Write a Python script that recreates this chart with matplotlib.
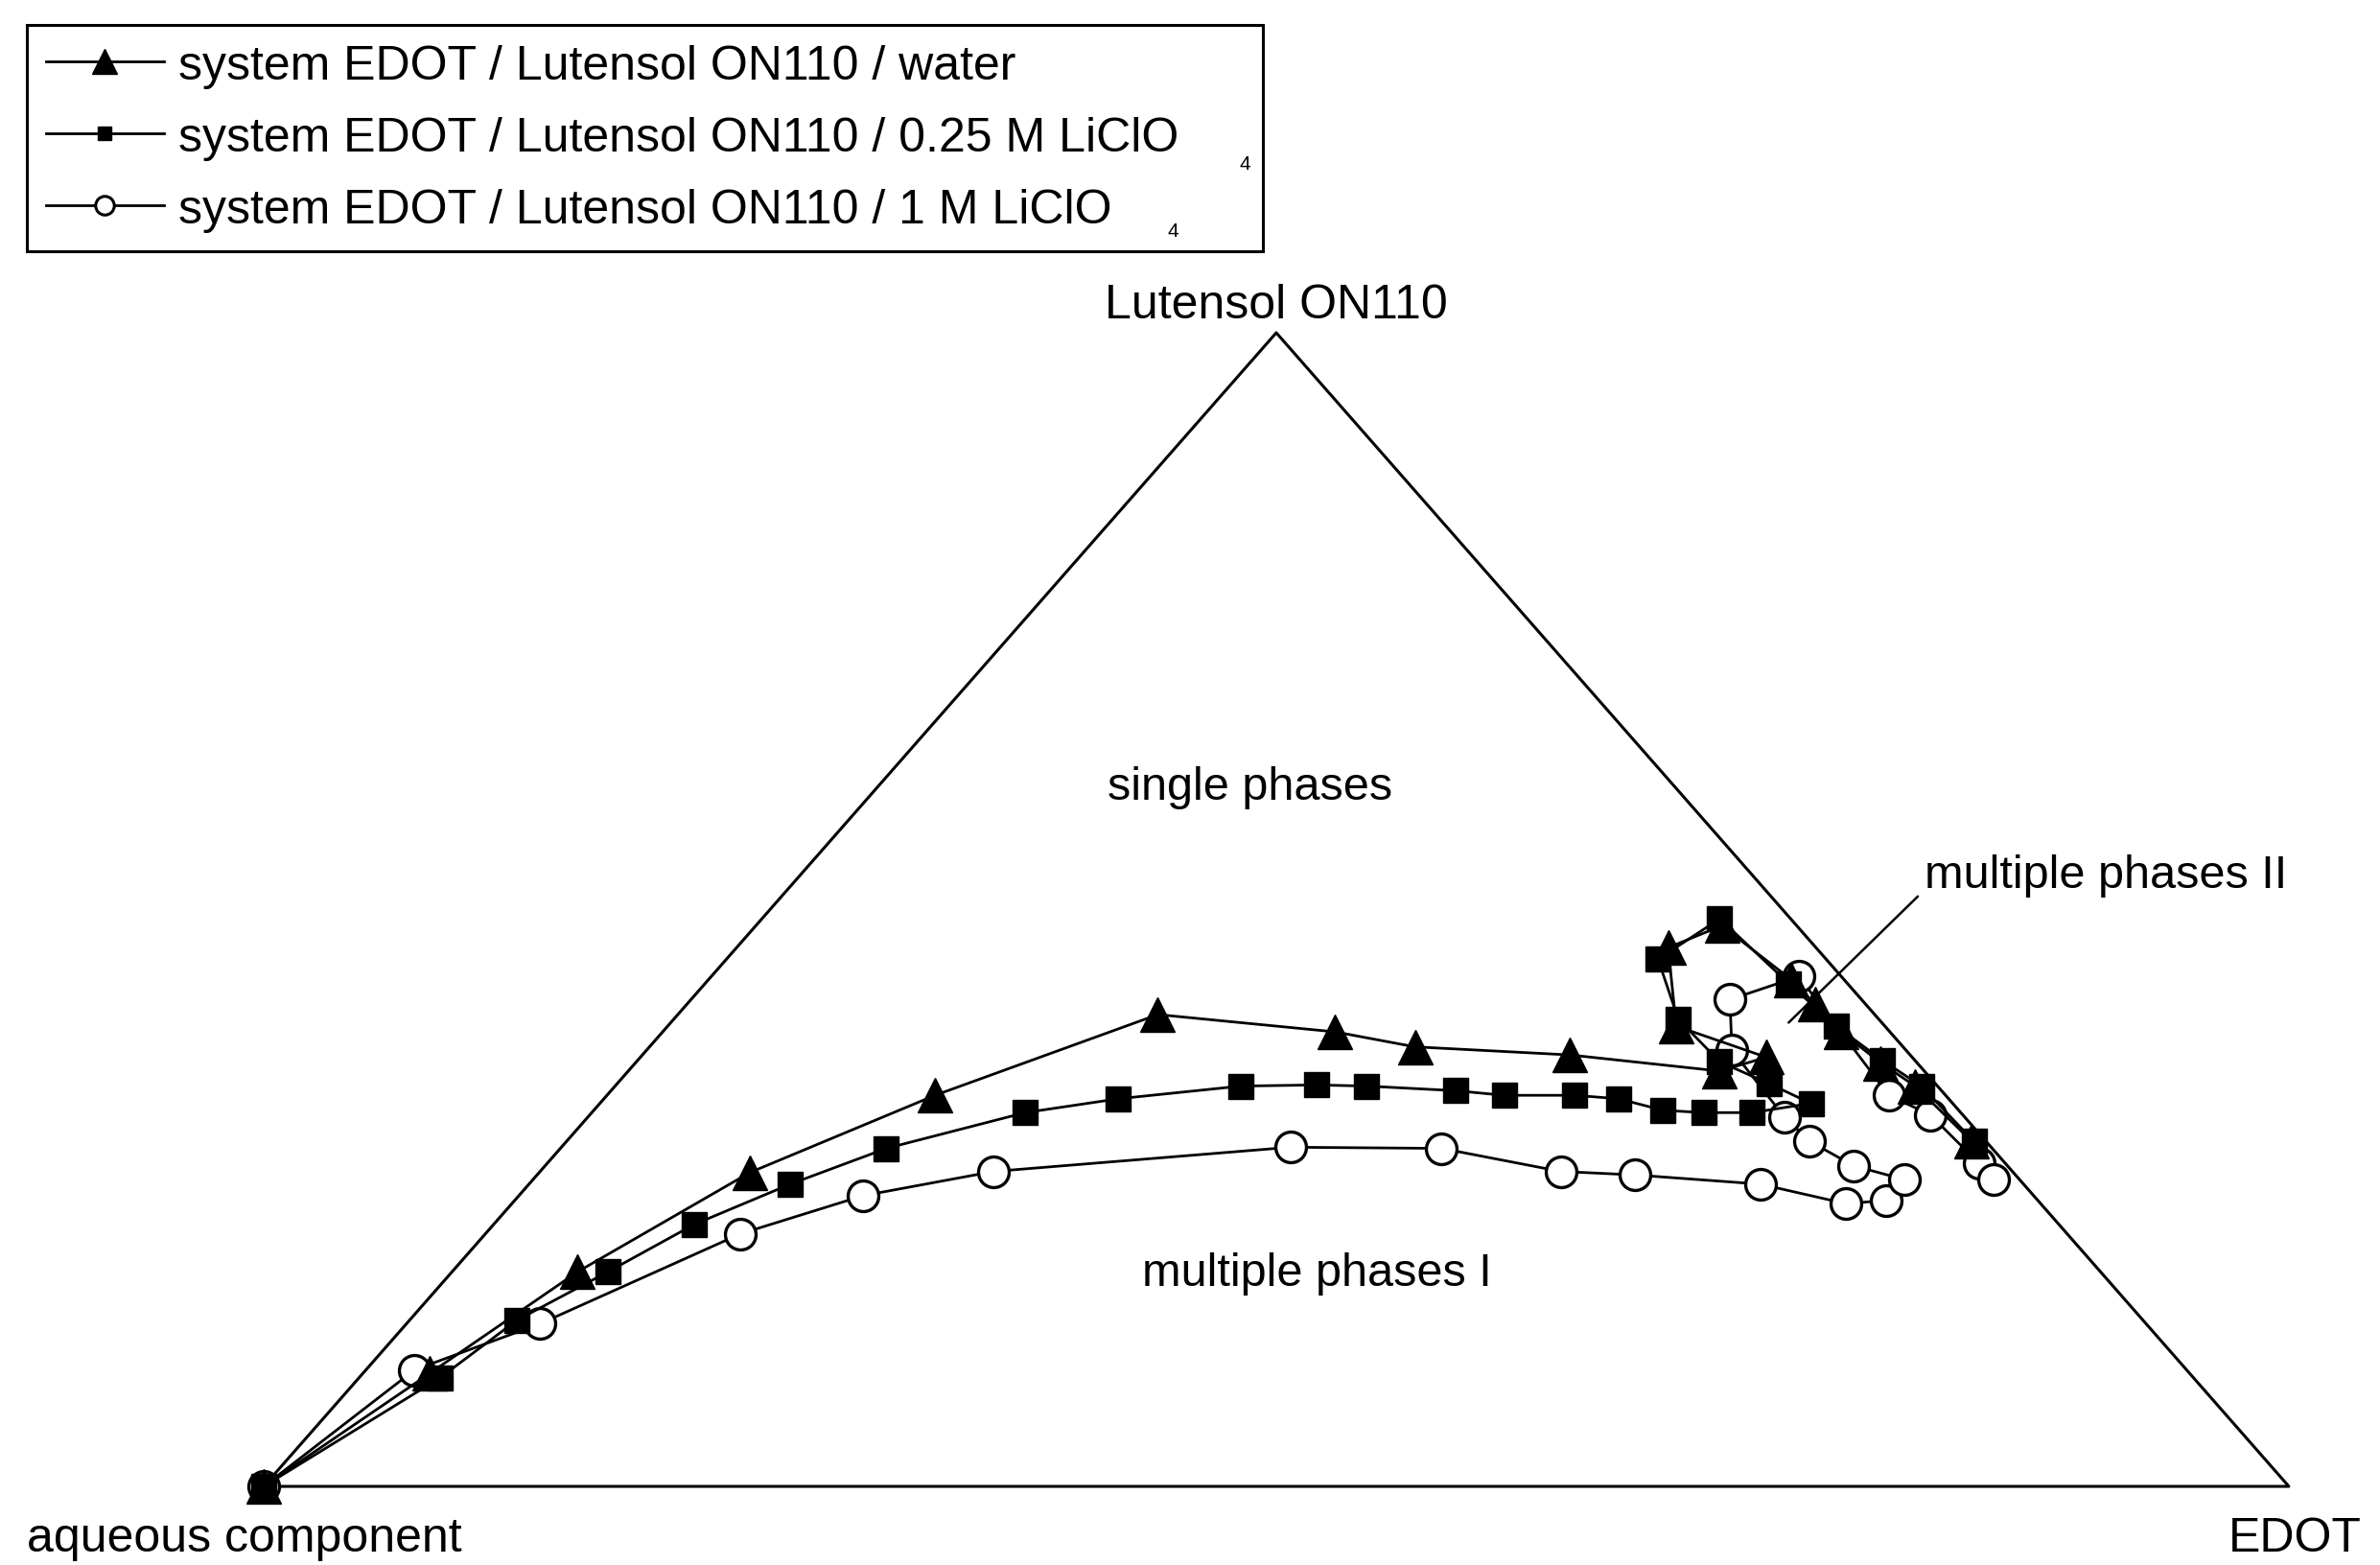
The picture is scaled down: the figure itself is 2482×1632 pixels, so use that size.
import numpy as np
import matplotlib
matplotlib.use('Agg')
import matplotlib.pyplot as plt
from matplotlib.lines import Line2D

plt.rcParams['font.family'] = ['Liberation Sans', 'DejaVu Sans']

# compositions in %; aqueous component = 100 - lutensol - edot
water_lutensol = [0, 9.8, 18.6, 27.2, 33.9, 40.9, 39.4, 38.1, 37.4, 36.0, 37.2, 39.9, 46.7,
                  48.6, 43.9, 41.8, 39.4, 36.7, 34.7, 29.9]
water_edot = [0, 3.3, 6.2, 10.4, 16.2, 23.7, 33.2, 37.8, 45.8, 53.9, 55.6, 49.8, 46.0,
              47.7, 53.5, 55.7, 58.2, 61.5, 64.2, 69.4]

licl025_lutensol = [0, 9.4, 14.4, 18.6, 22.7, 26.2, 29.3, 32.4, 33.6, 34.7, 34.8, 34.7, 34.3,
                    33.9, 33.9, 33.6, 32.6, 32.4, 32.4, 33.2, 34.9, 36.8, 40.5, 45.7, 49.2,
                    43.6, 39.9, 36.9, 34.7, 29.9]
licl025_edot = [0, 4.0, 5.3, 7.7, 9.9, 12.9, 16.1, 21.4, 25.4, 30.9, 34.6, 37.1, 41.7,
                44.3, 47.8, 50.1, 52.8, 54.9, 57.3, 59.8, 56.9, 53.5, 49.6, 46.0, 47.3,
                53.5, 57.7, 61.5, 64.5, 69.5]

licl1_lutensol = [0, 10.1, 14.1, 21.9, 25.2, 27.3, 29.4, 29.3, 27.3, 27.0, 26.2, 24.5, 24.8,
                  26.6, 27.8, 29.9, 32.0, 37.8, 42.2, 44.2, 33.9, 32.2, 28.0, 26.6]
licl1_edot = [0, 2.4, 6.6, 12.6, 17.0, 22.4, 36.0, 43.5, 50.4, 54.2, 60.8, 65.9, 67.7,
              67.7, 64.6, 61.4, 59.1, 53.6, 51.3, 53.7, 63.3, 66.2, 70.7, 72.1]

labels = ['system EDOT / Lutensol ON110 / water',
          'system EDOT / Lutensol ON110 / 0.25 M LiClO',
          'system EDOT / Lutensol ON110 / 1 M LiClO']

# corners: aqueous component, EDOT, Lutensol ON110
corner_lutensol = [0, 0, 100, 0]
corner_edot = [0, 100, 0, 0]


def to_xy(lutensol, edot):
    l = np.asarray(lutensol, dtype=float) / 100
    e = np.asarray(edot, dtype=float) / 100
    return e + l / 2, l


fig = plt.figure(figsize=(24.82, 16.33), dpi=100)
ax = fig.add_axes([0.1108, 0.0502, 0.8509, 0.7367])
ax.set_xlim(0, 1)
ax.set_ylim(0, 1)
ax.axis('off')

tx, ty = to_xy(corner_lutensol, corner_edot)
ax.plot(tx, ty, color='black', lw=2.2, clip_on=False, zorder=1)

x, y = to_xy(licl1_lutensol, licl1_edot)
ax.plot(x, y, color='black', lw=2, marker='o', ms=23, mfc='white', mec='black',
        mew=2.4, clip_on=False, zorder=3)
x, y = to_xy(licl025_lutensol, licl025_edot)
ax.plot(x, y, color='black', lw=2, marker='s', ms=19, mfc='black', mec='black',
        clip_on=False, zorder=4)
x, y = to_xy(water_lutensol, water_edot)
ax.plot(x, y, color='black', lw=2, marker='^', ms=26, mfc='black', mec='black',
        clip_on=False, zorder=5)

# corner labels
ax.text(0.5, 1.013, 'Lutensol ON110', ha='center', va='baseline', fontsize=36)
ax.text(-0.0095, -0.056, 'aqueous component', ha='center', va='baseline', fontsize=36)
ax.text(1.036, -0.056, 'EDOT', ha='right', va='baseline', fontsize=36)

# region labels
ax.text(0.487, 0.606, 'single phases', ha='center', va='center', fontsize=35)
ax.text(0.520, 0.185, 'multiple phases I', ha='center', va='center', fontsize=35)
px, py = to_xy([40.2], [55.2])
ax.annotate('multiple phases II', xy=(px[0], py[0]), xytext=(0.820, 0.530),
            ha='left', va='center', fontsize=35,
            arrowprops=dict(arrowstyle='-', lw=1.8, color='black',
                            relpos=(0, 0.15), shrinkA=4, shrinkB=0))

handles = [
    Line2D([], [], color='black', lw=2, marker='^', ms=19, mfc='black', mec='black'),
    Line2D([], [], color='black', lw=2, marker='s', ms=10, mfc='black', mec='black'),
    Line2D([], [], color='black', lw=2, marker='o', ms=14, mfc='white', mec='black', mew=2.2),
]
leg = fig.legend(handles, labels, loc='upper left',
                 bbox_to_anchor=(0.0113, 0.9835 - 0.15, 0.5193, 0.15), mode='expand',
                 borderaxespad=0, fontsize=36, handlelength=2.45, handletextpad=0.3,
                 labelspacing=0.58, borderpad=0.4, fancybox=False, framealpha=1,
                 edgecolor='black')
leg.get_frame().set_linewidth(2.2)

fig.text(0.523, 0.895, '4', fontsize=15, ha='center', va='center', zorder=10)
fig.text(0.493, 0.852, '4', fontsize=15, ha='center', va='center', zorder=10)

fig.savefig('out.png', dpi=100, facecolor='white')
